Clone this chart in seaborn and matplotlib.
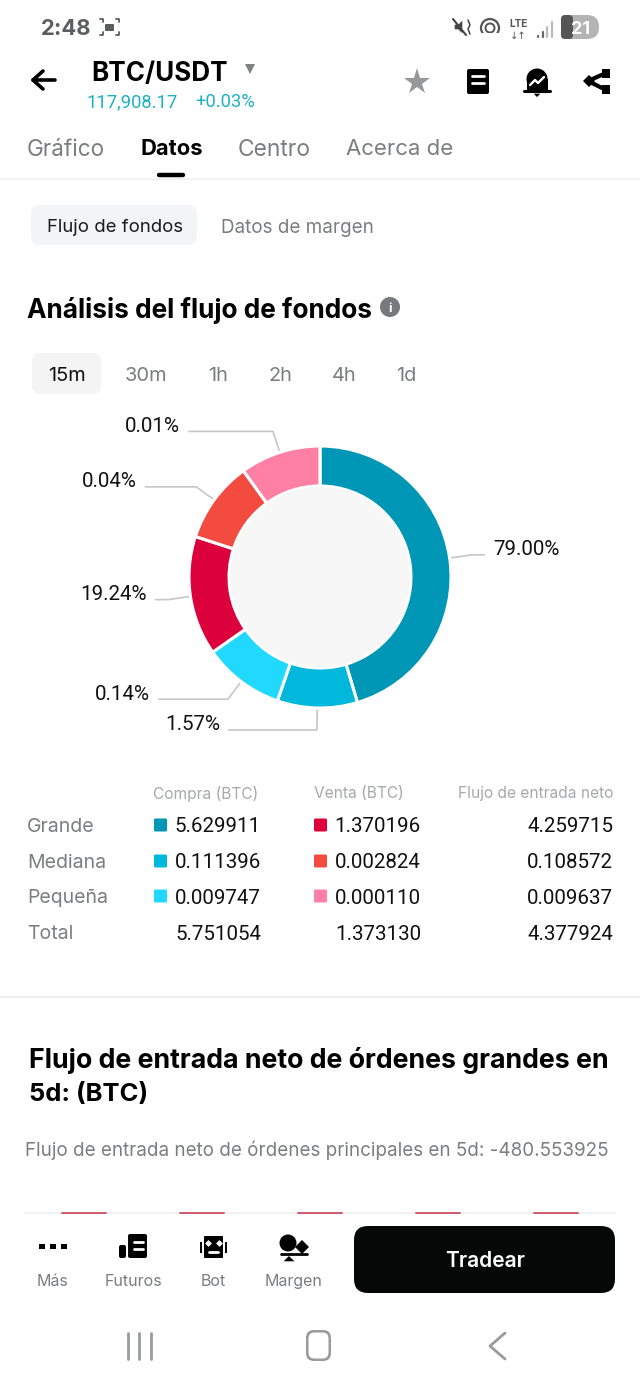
import numpy as np
import matplotlib
matplotlib.use("Agg")
import matplotlib.pyplot as plt
import seaborn as sns
from matplotlib.patches import FancyBboxPatch, Circle, Rectangle, Polygon

# donut slices, arc sizes as drawn on screen (the app forces a minimum slice size)
pct_labels = ["79.00%", "1.57%", "0.14%", "19.24%", "0.04%", "0.01%"]
arc_degrees = [163.4, 35.6, 36.0, 53.0, 36.2, 35.8]
slice_colors = ["#0097b7", "#00b7dc", "#21d8ff", "#dc003c", "#f44b41", "#ff80a4"]
leader_tail = [13, 88, 69, 13, 51, 84]

# table
row_names = ["Grande", "Mediana", "Pequeña", "Total"]
col_names = ["Compra (BTC)", "Venta (BTC)", "Flujo de entrada neto"]
buy_vals = ["5.629911", "0.111396", "0.009747", "5.751054"]
sell_vals = ["1.370196", "0.002824", "0.000110", "1.373130"]
net_vals = ["4.259715", "0.108572", "0.009637", "4.377924"]

tabs = ["Gráfico", "Datos", "Centro", "Acerca de"]
periods = ["15m", "30m", "1h", "2h", "4h", "1d"]
bottom_items = ["Más", "Futuros", "Bot", "Margen"]

sns.set_theme(style="white")
plt.rcParams["font.family"] = ["Inter", "Roboto", "DejaVu Sans"]

W, H = 640, 1387
CX, CY, R = 320, 577, 130
INK, GREY, LIGHT = "#0b0b0b", "#7b7d80", "#a6a8ab"

fig = plt.figure(figsize=(W / 100, H / 100), dpi=100, facecolor="white")
ax = fig.add_axes([0, 0, 1, 1])
ax.set_xlim(0, W)
ax.set_ylim(H, 0)
ax.axis("off")


def txt(x, y, s, px=18, color=INK, ha="left", weight="normal", family=None, a=ax):
    return a.text(x, y, s, fontsize=px * 0.72, color=color, ha=ha, va="center_baseline",
                  fontweight=weight, family=family or ["Inter", "DejaVu Sans"])


def box(x0, y0, x1, y1, r, color):
    ax.add_patch(FancyBboxPatch((x0 + r, y0 + r), x1 - x0 - 2 * r, y1 - y0 - 2 * r,
                                boxstyle=f"round,pad={r}", fc=color, ec="none"))


# status bar
txt(41, 27, "2:48", 22, "#5c5d5f", weight="bold")
ax.plot([100, 103, 103], [19, 19, 22], color="#5c5d5f", lw=1.3)
ax.plot([116, 119, 119], [19, 19, 22], color="#5c5d5f", lw=1.3)
ax.plot([100, 103, 103], [35, 35, 32], color="#5c5d5f", lw=1.3)
ax.plot([116, 119, 119], [35, 35, 32], color="#5c5d5f", lw=1.3)
box(105, 24, 114, 31, 1, "#5c5d5f")
ax.add_patch(Polygon([[454, 24], [458, 24], [463, 19], [463, 35], [458, 30], [454, 30]], fc="#444444"))
ax.plot([453, 466], [19, 35], color="#444444", lw=1.5)
ax.plot([468, 470, 468, 470], [20, 25, 29, 34], color="#444444", lw=1.1)
ax.add_patch(Circle((490, 28), 9, fc="none", ec="#555555", lw=1.6))
ax.add_patch(Circle((490, 28), 4.5, fc="none", ec="#555555", lw=1.4))
ax.add_patch(Rectangle((480, 33), 20, 5, fc="white", ec="none"))
txt(518, 23, "LTE", 10, "#555555", ha="center", weight="bold")
txt(518, 35, "↓↑", 10, "#555555", ha="center", family=["DejaVu Sans"])
for i, top in enumerate([36, 32, 27, 22]):
    ax.plot([538 + i * 4.5] * 2, [top, 37], color="#666666" if i < 2 else "#bbbbbb", lw=1.6)
box(561, 15, 599, 39, 12, "#b4b4b4")
ax.add_patch(FancyBboxPatch((565, 19), 4, 16, boxstyle="round,pad=4", fc="#555555", ec="none"))
txt(581, 27, "21", 18, "white", ha="center", weight="bold")

# header
ax.plot([55, 33], [80, 80], color="black", lw=2.6)
ax.plot([43, 33, 43], [71, 80, 89], color="black", lw=2.6)
txt(91.5, 71, "BTC/USDT", 26, "black", weight="bold")
ax.plot([250], [69], marker="v", ms=7, color="#808185", mew=0)
txt(87, 100, "117,908.17", 18.4, "#1fb1c2", family=["Roboto"])
txt(195, 100, "+0.03%", 18.4, "#1fb1c2", family=["Roboto"])
ax.plot([417], [82], marker="*", ms=19.5, color="#96989c", mew=0)
box(467, 69, 489, 94, 2, "black")
ax.plot([472, 484], [76, 76], color="white", lw=2)
ax.plot([472, 484], [83, 83], color="white", lw=2)
ax.add_patch(Circle((537, 79), 10.5, fc="black", ec="none"))
ax.add_patch(Rectangle((526.5, 79), 21, 12, fc="black", ec="none"))
ax.plot([524, 550], [91, 91], color="black", lw=2.2)
ax.add_patch(Polygon([[532, 93], [542, 93], [537, 98]], fc="black"))
ax.plot([530, 535, 538, 544], [85, 80, 83, 77], color="white", lw=1.7)
ax.plot([606, 588, 606], [73, 81, 90], color="black", lw=3)
ax.plot([589], [81], marker="D", ms=6, color="black", mew=0)
for sy in [69, 85]:
    ax.add_patch(Rectangle((602, sy), 8, 9, fc="black", ec="none"))

# tabs
for x, name, px in zip([27, 140, 238, 346], tabs, [22.5, 22, 22.8, 22.2]):
    active = name == "Datos"
    txt(x, 147, name, px, "black" if active else GREY, weight="bold" if active else "normal")
ax.plot([159, 183], [175, 175], color="black", lw=3.2, solid_capstyle="round")
ax.plot([0, W], [178.5, 178.5], color="#f0f0f0", lw=1.2)

box(31, 205, 197, 245, 9, "#f3f4f6")
txt(47, 226, "Flujo de fondos", 18.5, "#1a1a1a")
txt(221, 226, "Datos de margen", 18.9, GREY)

txt(27, 308, "Análisis del flujo de fondos", 26.2, "black", weight="bold")
ax.add_patch(Circle((390, 307), 10, fc="#77797c", ec="none"))
txt(390, 307, "i", 13, "white", ha="center", weight="bold")

box(32, 353, 101, 394, 8, "#f4f4f5")
for x, p in zip([67, 146, 218, 280, 344, 406], periods):
    txt(x, 374, p, 20, "#111111" if p == "15m" else GREY, ha="center")

# donut
size = 300
ax_pie = fig.add_axes([(CX - size / 2) / W, 1 - (CY + size / 2) / H, size / W, size / H])
wedges, _ = ax_pie.pie(arc_degrees, colors=slice_colors, radius=R + 1, startangle=90, counterclock=False,
                       wedgeprops=dict(width=R - 90, edgecolor="white", linewidth=2.2))
ax_pie.add_patch(Circle((0, 0), 90, fc="#f7f7f7", ec="none"))
ax_pie.set_xlim(-size / 2, size / 2)
ax_pie.set_ylim(-size / 2, size / 2)
ax_pie.patch.set_alpha(0)

# leader lines come off the middle of each slice
for w, label, tail in zip(wedges, pct_labels, leader_tail):
    mid = np.deg2rad((w.theta1 + w.theta2) / 2)
    ux, uy = np.cos(mid), -np.sin(mid)
    x0, y0 = CX + (R + 3) * ux, CY + (R + 3) * uy
    x1, y1 = CX + (R + 23) * ux, CY + (R + 23) * uy
    side = 1 if ux > 0 else -1
    x2 = x1 + side * tail
    ax.plot([x0, x1, x2], [y0, y1, y1], color="#c4c6c8", lw=1.2)
    txt(x2 + side * 9, y1 - 7, label, 20.5, "#111111", ha="left" if side > 0 else "right", family=["Roboto"])

# table
for x, name, ha in zip([153, 314, 613], col_names, ["left", "left", "right"]):
    txt(x, 792, name, 15.5, LIGHT, ha=ha)
row_y = [825, 861, 896, 932]
for i, y in enumerate(row_y):
    txt(27, y, row_names[i], 19.5, GREY)
    txt(261, y, buy_vals[i], 20.5, "#111111", ha="right", family=["Roboto"])
    txt(421, y, sell_vals[i], 20.5, "#111111", ha="right", family=["Roboto"])
    txt(613, y, net_vals[i], 20.5, "#111111", ha="right", family=["Roboto"])
    if i < 3:
        box(154, y - 6.5, 167, y + 6.5, 1.5, slice_colors[i])
        box(314, y - 6.5, 327, y + 6.5, 1.5, slice_colors[3 + i])

ax.plot([0, W], [997, 997], color="#f0f0f0", lw=1.4)
txt(29, 1057, "Flujo de entrada neto de órdenes grandes en", 26.8, "black", weight="bold")
txt(29, 1092, "5d: (BTC)", 25.6, "black", weight="bold")
txt(25, 1148, "Flujo de entrada neto de órdenes principales en 5d: -480.553925", 18.8, GREY)

ax.plot([25, 615], [1212.5, 1212.5], color="#efefef", lw=1.2)
for x in [62, 180, 298, 416, 534]:
    ax.plot([x, x + 44], [1212.5, 1212.5], color="#d0596f", lw=1.4)

# bottom bar
for x in [42, 53, 64]:
    ax.add_patch(Rectangle((x - 3, 1244), 6, 5, fc="black", ec="none"))
box(119, 1245, 126, 1258, 2, "black")
box(128, 1234, 147, 1258, 2, "black")
ax.plot([134, 143], [1242, 1242], color="white", lw=2)
ax.plot([134, 143], [1249, 1249], color="white", lw=2)
box(204, 1236, 223, 1258, 1, "black")
ax.add_patch(Rectangle((200, 1242), 2, 11, fc="black", ec="none"))
ax.add_patch(Rectangle((225, 1242), 2, 11, fc="black", ec="none"))
ax.plot([208, 219], [1243, 1243], ls="none", marker="D", ms=3.5, color="white", mew=0)
ax.plot([209, 218], [1252, 1252], color="white", lw=2)
ax.add_patch(Circle((288, 1243), 8.5, fc="black", ec="none"))
ax.plot([302], [1247], marker="D", ms=7, color="black", mew=0)
ax.plot([281, 307], [1254, 1254], color="black", lw=2)
ax.add_patch(Polygon([[289, 1255], [296, 1262], [282, 1262]], fc="black"))
for x, name in zip([53, 133, 213, 294], bottom_items):
    txt(x, 1280, name, 16, GREY, ha="center")
box(354, 1226, 615, 1293, 14, "#060808")
txt(485, 1259, "Tradear", 21, "white", ha="center", weight="semibold")

# nav bar
for x in [128, 139, 151]:
    ax.plot([x, x], [1333, 1359], color="#999a9c", lw=2)
box(306, 1330, 331, 1361, 8, "#999a9c")
box(308.5, 1332.5, 328.5, 1358.5, 6, "white")
ax.plot([505, 490, 505], [1333, 1346, 1359], color="#999a9c", lw=2)

fig.savefig("out.png", dpi=100, facecolor="white")
